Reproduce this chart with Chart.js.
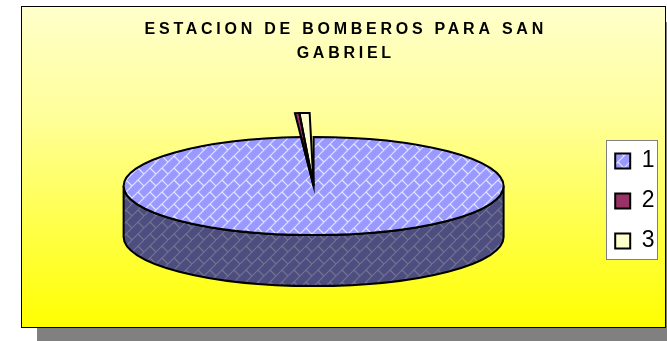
<!DOCTYPE html>
<html>
<head>
<meta charset="utf-8">
<style>html,body{margin:0;padding:0;background:#fff}canvas{display:block}</style>
<script src="https://cdn.jsdelivr.net/npm/chart.js@4"></script>
</head>
<body>
<canvas id="c" width="667" height="341"></canvas>
<script>
const categories = ['1', '2', '3'];
const values = [98.95, 0.25, 0.8];
const titleLines = ['ESTACION DE BOMBEROS PARA SAN', 'GABRIEL'];

const TILT = 0.258, DEPTH = 51, STRETCH = 1.49, GAP = 0.014;

function brick(bg, line) {
  const t = document.createElement('canvas');
  t.width = t.height = 24;
  const g = t.getContext('2d');
  g.fillStyle = bg; g.fillRect(0, 0, 24, 24);
  g.scale(1.2, 1.2);
  g.strokeStyle = line; g.lineWidth = 0.95;
  g.beginPath();
  for (let s = -20; s <= 40; s += 10) { g.moveTo(s, 0); g.lineTo(s - 20, 20); }
  [[5,5,10,10],[15,15,20,20],[15,5,20,10],[5,15,10,20]].forEach(p => { g.moveTo(p[0],p[1]); g.lineTo(p[2],p[3]); });
  g.stroke();
  return t;
}
const ctx0 = document.getElementById('c').getContext('2d');
const topPat = ctx0.createPattern(brick('#9999FF', '#E6E6FF'), 'repeat');
topPat.setTransform(new DOMMatrix().scale(1, 1 / TILT));
const legendPat = ctx0.createPattern(brick('#9999FF', '#E6E6FF'), 'repeat');
const wallPat = ctx0.createPattern(brick('#4D4D80', '#74748F'), 'repeat');

const look = {
  id: 'look',
  afterLayout(chart) {
    const l = chart.legend;
    l.top += 47; l.bottom += 47; l.left -= 2.5; l.right -= 2.5;
    const tb = chart.titleBlock;
    if (!tb._wrapped) {
      const orig = tb.draw.bind(tb);
      tb.draw = function (c) {
        const x = chart.ctx;
        x.save(); x.translate(-1, 0); x.letterSpacing = '3.75px';
        orig(c);
        x.restore();
      };
      tb._wrapped = true;
    }
  },
  beforeDraw(chart) {
    const c = chart.ctx;
    c.save();
    c.fillStyle = '#808080'; c.fillRect(37, 22, 630, 319);
    const g = c.createLinearGradient(0, 6, 0, 327);
    g.addColorStop(0, '#FFFFCC'); g.addColorStop(0.35, '#FFFF99'); g.addColorStop(1, '#FFFF00');
    c.fillStyle = g; c.fillRect(21.5, 6.5, 644, 321);
    c.strokeStyle = '#000'; c.lineWidth = 1; c.strokeRect(21.5, 6.5, 644, 321);
    c.fillStyle = '#fff'; c.fillRect(606.5, 140.5, 51, 119);
    c.strokeStyle = '#808080'; c.strokeRect(606.5, 140.5, 51, 119);
    c.restore();
  },
  beforeDatasetsDraw(chart) {
    const c = chart.ctx, arcs = chart.getDatasetMeta(0).data, a = arcs[0];
    const R = a.outerRadius, ry = R * TILT;
    arcs[1].outerRadius = arcs[2].outerRadius = R * STRETCH;
    arcs[2].endAngle = arcs[2].endAngle - GAP;
    c.save();
    c.beginPath();
    c.ellipse(a.x, a.y, R, ry, 0, 0, Math.PI);
    c.ellipse(a.x, a.y + DEPTH, R, ry, 0, Math.PI, 0, true);
    c.closePath();
    c.fillStyle = wallPat; c.fill();
    c.strokeStyle = '#000'; c.lineWidth = 2; c.stroke();
    c.restore();
    c.save();
    c.translate(a.x, a.y); c.scale(1, TILT); c.translate(-a.x, -a.y);
  },
  afterDatasetsDraw(chart) {
    const c = chart.ctx, arcs = chart.getDatasetMeta(0).data;
    c.restore();
    c.strokeStyle = '#000'; c.lineWidth = 2; c.lineJoin = 'miter';
    arcs.forEach(e => {
      c.save();
      c.beginPath();
      c.translate(e.x, e.y); c.scale(1, TILT);
      c.moveTo(0, 0);
      c.arc(0, 0, e.outerRadius, e.startAngle, e.endAngle);
      c.closePath();
      c.restore();
      c.stroke();
    });
  }
};

new Chart(ctx0, {
  type: 'pie',
  data: {
    labels: categories,
    datasets: [{
      data: values,
      radius: 190,
      borderWidth: 0,
      clip: false,
      backgroundColor: [topPat, '#993366', '#FFFFCC']
    }]
  },
  options: {
    responsive: false,
    animation: false,
    events: [],
    layout: { padding: { left: 26.5, right: 0, top: 6, bottom: 39 } },
    plugins: {
      tooltip: { enabled: false },
      title: {
        display: true,
        text: titleLines,
        color: '#000',
        font: { family: '"Liberation Sans", Arial, sans-serif', size: 16, weight: 'bold', lineHeight: 1.5 },
        padding: { top: 12, bottom: 4 }
      },
      legend: {
        display: true,
        position: 'right',
        labels: {
          color: '#000',
          boxWidth: 15,
          boxHeight: 15,
          padding: 17,
          font: { family: '"Liberation Sans", Arial, sans-serif', size: 23 },
          generateLabels(chart) {
            const fills = [legendPat, '#993366', '#FFFFCC'];
            return categories.map((t, i) => ({
              text: t, fillStyle: fills[i], strokeStyle: '#000', lineWidth: 2, index: i, hidden: false
            }));
          }
        }
      }
    }
  },
  plugins: [look]
});
</script>
</body>
</html>
